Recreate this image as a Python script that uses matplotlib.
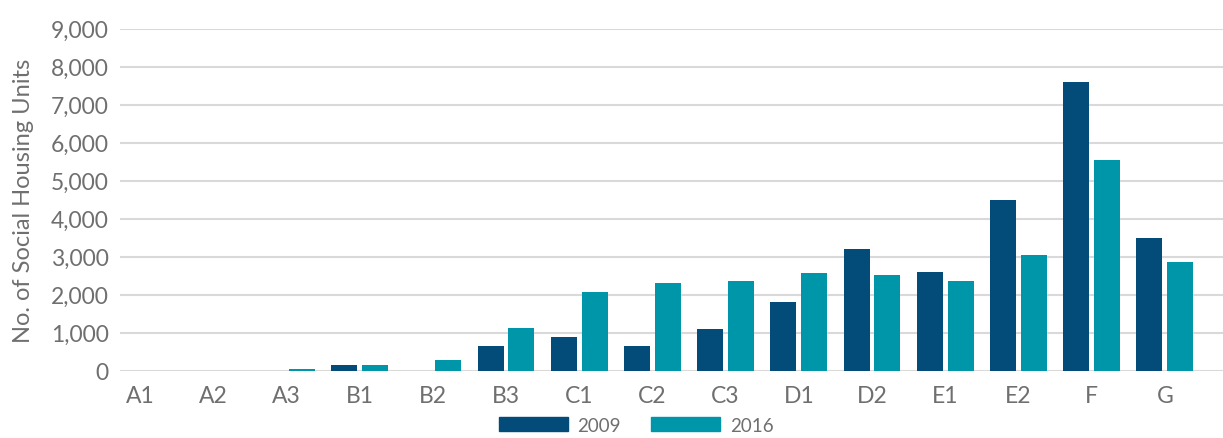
import numpy as np
import matplotlib.pyplot as plt
from matplotlib.patches import Patch

# categories and values
categories = ["A1", "A2", "A3", "B1", "B2", "B3", "C1", "C2", "C3",
              "D1", "D2", "E1", "E2", "F", "G"]
units_2009 = [0, 0, 0, 160, 0, 650, 880, 650, 1090,
              1800, 3190, 2590, 4500, 7580, 3500]
units_2016 = [0, 0, 50, 160, 290, 1120, 2060, 2300, 2350,
              2560, 2510, 2350, 3030, 5540, 2870]
series_names = ["2009", "2016"]
yticks = [0, 1000, 2000, 3000, 4000, 5000, 6000, 7000, 8000, 9000]

c2009 = "#034b78"
c2016 = "#0096a9"
grey = "#6f6f6f"

plt.rcParams['font.family'] = ['Lato', 'DejaVu Sans']

fig = plt.figure(figsize=(12.23, 4.39), dpi=100)
ax = fig.add_axes([0.0981, 0.1533, 0.9019, 0.7795])

x = np.arange(len(categories))
w = 0.355
off = 0.21
ax.bar(x - off, units_2009, width=w, color=c2009, zorder=3)
ax.bar(x + off, units_2016, width=w, color=c2016, zorder=3)

ax.set_xlim(-0.273, 14.795)
ax.set_ylim(0, 9000)
ax.set_yticks(yticks)
ax.set_yticklabels([f"{v:,}" for v in yticks])
ax.set_xticks(x)
ax.set_xticklabels(categories)
ax.tick_params(axis='both', length=0, labelsize=16.5, labelcolor=grey)
ax.tick_params(axis='y', pad=8)
ax.tick_params(axis='x', pad=10)
ax.yaxis.grid(True, color="#d9d9d9", linewidth=1.5, zorder=0)
ax.set_axisbelow(True)
for s in ax.spines.values():
    s.set_visible(False)

ax.set_ylabel("No. of Social Housing Units", fontsize=17, color=grey, labelpad=12)

handles = [Patch(color=c2009), Patch(color=c2016)]
fig.legend(handles, series_names, loc='center', bbox_to_anchor=(0.52, 0.029),
           ncol=2, frameon=False, fontsize=13.5, labelcolor=grey,
           handlelength=3.7, handleheight=0.8, handletextpad=0.5,
           columnspacing=1.6, borderpad=0)

fig.savefig("out.png", dpi=100)
